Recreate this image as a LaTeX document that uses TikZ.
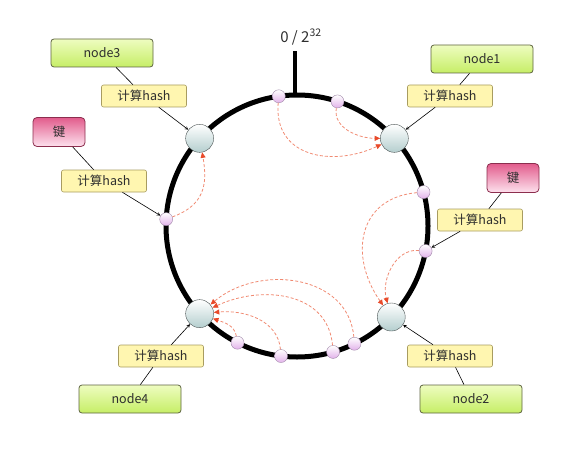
\documentclass[tikz,border=0pt]{standalone}
\usepackage{fontspec}
\setmainfont{Noto Sans CJK SC}
\usetikzlibrary{calc,arrows.meta}

\definecolor{inkgray}{HTML}{2E2E2E}
\definecolor{servfill}{HTML}{B4CECE}
\definecolor{servline}{HTML}{4A5252}
\definecolor{pointfill}{HTML}{E2B2EA}
\definecolor{pointline}{HTML}{A088A8}
\definecolor{hosttop}{HTML}{EEFCC0}
\definecolor{hostbot}{HTML}{C6EE66}
\definecolor{hostline}{HTML}{5E6440}
\definecolor{hashfill}{HTML}{FFF6B0}
\definecolor{hashline}{HTML}{A89C60}
\definecolor{keytop}{HTML}{E25C8C}
\definecolor{keybot}{HTML}{FDE2EE}
\definecolor{keyline}{HTML}{8C2E4E}
\definecolor{hopred}{HTML}{F08A72}
\definecolor{hoptip}{HTML}{E84A2A}

\begin{document}
\begin{tikzpicture}[x=1pt,y=1pt,semithick,>=stealth,text=inkgray,
    font=\fontsize{12.5}{14}\selectfont]
  \tikzstyle{server}=[circle,draw=servline,thin,top color=white,bottom color=servfill,minimum size=28pt,inner sep=0pt]
  \tikzstyle{point}=[circle,draw=pointline,thin,top color=white,bottom color=pointfill,minimum size=13pt,inner sep=0pt]
  \tikzstyle{host}=[rectangle,rounded corners=3pt,draw=hostline,thick,top color=hosttop,bottom color=hostbot,minimum width=102pt,minimum height=28pt]
  \tikzstyle{hash}=[rectangle,rounded corners=2pt,draw=hashline,fill=hashfill,minimum width=85pt,minimum height=22pt,inner sep=1pt]
  \tikzstyle{key}=[rectangle,rounded corners=4pt,draw=keyline,thick,top color=keytop,bottom color=keybot,minimum width=52pt,minimum height=29pt]
  \tikzstyle{hop}=[-{Triangle[length=5.5pt,width=5pt,color=hoptip]},draw=hopred,line width=0.8pt,dash pattern=on 3pt off 2pt]
  \useasboundingbox (0,0) rectangle (588,448);

  % hash ring
  \coordinate (O) at (297,222);
  \draw[line width=5pt] (O) circle (131);
  \coordinate (zero) at ($(O)+(-2,131)$);
  \coordinate (tick) at ($(zero)+(0,44)$);
  \draw[line width=3.5pt] (zero) -- (tick);
  \node[font=\fontsize{15}{16}\selectfont] (origin) at (301,411) {0 / 2\textsuperscript{32}};

  % servers and keys on the ring
  \foreach \name/\ang in {s1/42,s3/138,s4/222,s2/316}
    \node[server] (\name) at ($(O)+(\ang:131)$) {};
  \foreach \name/\ang in {p1/98,p2/72,p3/177,p4/15,p5/-11,p6/-117,p7/-97,p8/-74,p9/-64}
    \node[point] (\name) at ($(O)+(\ang:131)$) {};

  % labels
  \node[host] (n3) at (102,395) {node3};
  \node[hash] (h3) at (144,352) {计算hash};
  \node[key] (k3) at (59,316) {键};
  \node[hash] (hk3) at (104,267) {计算hash};
  \node[host] (n1) at (482,389) {node1};
  \node[hash] (h1) at (450,352) {计算hash};
  \node[key] (k1) at (513,270) {键};
  \node[hash] (hk1) at (480,228) {计算hash};
  \node[host] (n4) at (130,49) {node4};
  \node[hash] (h4) at (161,92) {计算hash};
  \node[host] (n2) at (471,49) {node2};
  \node[hash] (h2) at (450,92) {计算hash};

  \path (n3) edge (h3)
        (h3) edge[->] (s3)
        (k3) edge (hk3)
        (hk3) edge[->] (p3)
        (n1) edge (h1)
        (h1) edge[->] (s1)
        (k1) edge (hk1)
        (hk1) edge[->] (p5)
        (n4) edge (h4)
        (h4) edge[->] (s4)
        (n2) edge (h2)
        (h2) edge[->] (s2);

  % keys go clockwise to the next server
  \path[hop] (p1) edge[out=-95,in=205,looseness=1.25] (s1)
             (p2) edge[out=-100,in=180] (s1)
             (p3) edge[out=20,in=-80,looseness=1.2] (s3)
             (p4) edge[out=185,in=125,looseness=1.3] (s2)
             (p5) edge[out=175,in=105] (s2)
             (p6) edge[out=100,in=-20] (s4)
             (p7) edge[out=95,in=5] (s4)
             (p8) edge[out=95,in=25,looseness=1.1] (s4)
             (p9) edge[out=95,in=40,looseness=1.1] (s4);
\end{tikzpicture}
\end{document}
